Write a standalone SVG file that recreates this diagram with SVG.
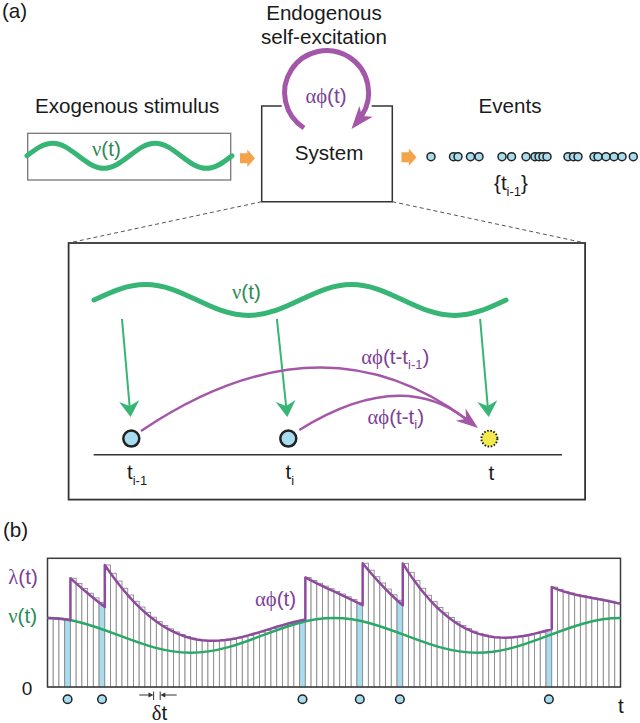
<svg xmlns="http://www.w3.org/2000/svg" width="640" height="723" viewBox="0 0 640 723">
<style>
.t{font-family:"Liberation Sans",Arial,sans-serif;font-size:20.6px;fill:#1a1a1a}
.g{font-family:"Liberation Serif","DejaVu Serif",serif}
.pur{fill:#7e3f97}
.grn{fill:#2d8a55}
.sub{font-size:13px}
.bar{fill:#fff;stroke:#8a8a8a;stroke-width:0.9}
.cy{fill:#a8dcef}
.ev{fill:#a8dcef;stroke:#222;stroke-width:1.5}
.bigev{fill:#a8dcef;stroke:#222;stroke-width:2.5}
.wave{fill:none;stroke:#37b574;stroke-width:5;stroke-linecap:round}
.dash{fill:none;stroke:#555;stroke-width:1;stroke-dasharray:4 3}
.garrow{fill:none;stroke:#37b574;stroke-width:2}
.ghead{fill:#37b574}
.parc{fill:none;stroke:#a456a8;stroke-width:2.5}
.phead{fill:#a456a8}
.orange{fill:#f4a349}
</style>

<text class="t" x="2" y="18">(a)</text>

<g id="exogenous">
  <text class="t" x="35" y="113">Exogenous stimulus</text>
  <rect x="27.7" y="133.3" width="203" height="46.7" fill="#fff" stroke="#777" stroke-width="1.3"/>
  <path class="wave" stroke-width="4.5" d="M27,155.8 C35.36,149.4 43.35,143.3 52.63,143.3 C61.9,143.3 69.89,149.4 78.25,155.8 C86.61,162.2 94.6,168.3 103.88,168.3 C113.15,168.3 121.14,162.2 129.5,155.8 C137.86,149.4 145.85,143.3 155.13,143.3 C164.4,143.3 172.39,149.4 180.75,155.8 C189.11,162.2 197.1,168.3 206.38,168.3 C215.65,168.3 223.64,162.2 232,155.8"/>
  <text class="t grn" x="92" y="156"><tspan class="g">ν</tspan>(t)</text>
</g>

<g id="endogenous">
  <text class="t" x="324" y="19.5" text-anchor="middle">Endogenous</text>
  <text class="t" x="324" y="44" text-anchor="middle">self-excitation</text>
  <path d="M304,128 A42,42 0 1 1 361.6,115.8" fill="none" stroke="#a456a8" stroke-width="5"/>
  <polygon class="phead" points="351.5,129 359.3,106 362,116 372.7,116.7"/>
  <text class="t pur" x="326" y="102.5" text-anchor="middle"><tspan class="g">αϕ</tspan>(t)</text>
</g>

<g id="system">
  <path d="M281.7,106 H261.7 V201.7 H392.3 V106 H371.7" fill="none" stroke="#333" stroke-width="1.5"/>
  <text class="t" x="329" y="160" text-anchor="middle">System</text>
</g>

<g id="events">
  <text class="t" x="510" y="113" text-anchor="middle">Events</text>
  <circle class="ev" cx="431" cy="156.7" r="4"/>
  <circle class="ev" cx="453.5" cy="156.7" r="4"/>
  <circle class="ev" cx="458" cy="156.7" r="4"/>
  <circle class="ev" cx="470.5" cy="156.7" r="4"/>
  <circle class="ev" cx="479" cy="156.7" r="4"/>
  <circle class="ev" cx="502" cy="156.7" r="4"/>
  <circle class="ev" cx="511.5" cy="156.7" r="4"/>
  <circle class="ev" cx="526" cy="156.7" r="4"/>
  <circle class="ev" cx="535" cy="156.7" r="4"/>
  <circle class="ev" cx="539" cy="156.7" r="4"/>
  <circle class="ev" cx="543" cy="156.7" r="4"/>
  <circle class="ev" cx="547" cy="156.7" r="4"/>
  <circle class="ev" cx="568" cy="156.7" r="4"/>
  <circle class="ev" cx="573.5" cy="156.7" r="4"/>
  <circle class="ev" cx="578" cy="156.7" r="4"/>
  <circle class="ev" cx="594" cy="156.7" r="4"/>
  <circle class="ev" cx="598" cy="156.7" r="4"/>
  <circle class="ev" cx="606" cy="156.7" r="4"/>
  <circle class="ev" cx="614" cy="156.7" r="4"/>
  <circle class="ev" cx="622" cy="156.7" r="4"/>
  <circle class="ev" cx="633.3" cy="156.7" r="4"/>
  <text class="t" x="494" y="190">{t<tspan class="sub" dy="6">i-1</tspan><tspan dy="-6">}</tspan></text>
</g>

<g id="zoom-panel">
  <rect x="68.6" y="243" width="516.5" height="256.6" fill="#fff" stroke="#333" stroke-width="1.8"/>
  <path class="wave" d="M94,300 C110.79,292.06 126.86,284.5 145.5,284.5 C164.14,284.5 180.21,292.06 197,300 C213.79,307.94 229.86,315.5 248.5,315.5 C267.14,315.5 283.21,307.94 300,300 C316.79,292.06 332.86,284.5 351.5,284.5 C370.14,284.5 386.21,292.06 403,300 C419.79,307.94 435.86,315.5 454.5,315.5 C473.14,315.5 489.21,307.94 506,300"/>
  <text class="t grn" x="232" y="299"><tspan class="g">ν</tspan>(t)</text>
  <line x1="93.7" y1="454.8" x2="562" y2="454.8" stroke="#333" stroke-width="1.5"/>
  <text class="t" x="127" y="479">t<tspan class="sub" dy="6">i-1</tspan></text>
  <text class="t" x="285.6" y="479">t<tspan class="sub" dy="6">i</tspan></text>
  <text class="t" x="488.5" y="480">t</text>
  <text class="t pur" x="361.3" y="364"><tspan class="g">αϕ</tspan>(t-t<tspan class="sub" dy="5">i-1</tspan><tspan dy="-5">)</tspan></text>
  <text class="t pur" x="367.5" y="424"><tspan class="g">αϕ</tspan>(t-t<tspan class="sub" dy="5">i</tspan><tspan dy="-5">)</tspan></text>
</g>

<g id="event-ti-1"><circle class="bigev" cx="131.3" cy="438.6" r="8"/></g>
<g id="event-ti"><circle class="bigev" cx="288.3" cy="438.6" r="8"/></g>
<g id="event-t"><circle cx="489.4" cy="438.6" r="8" fill="#f2e94e" stroke="#222" stroke-width="2" stroke-dasharray="1.6 1.6"/></g>

<g id="connectors">
  <polygon class="orange" points="240,153.3 247.3,153.3 247.3,149.5 255,158.3 247.3,167 247.3,163.3 240,163.3"/>
  <polygon class="orange" points="401.5,152.3 408.8,152.3 408.8,148.5 416.5,157.3 408.8,166 408.8,162.3 401.5,162.3"/>
  <line class="dash" x1="261.7" y1="201.7" x2="68.6" y2="243"/>
  <line class="dash" x1="392.3" y1="201.7" x2="585.1" y2="243"/>
  <line class="garrow" x1="122" y1="318.8" x2="129.6" y2="406"/>
  <polygon class="ghead" points="130.6,417 119.2,401.9 129.6,406 139.2,400.2"/>
  <line class="garrow" x1="276.9" y1="318.8" x2="286.1" y2="406"/>
  <polygon class="ghead" points="287.3,417 275.7,402.1 286.1,406 295.5,400.1"/>
  <line class="garrow" x1="480.1" y1="318.8" x2="487.7" y2="406"/>
  <polygon class="ghead" points="488.7,417 477.3,401.9 487.7,406 497.3,400.2"/>
  <path class="parc" d="M141,431 Q320,310.5 466,419"/>
  <path class="parc" d="M299.3,430 Q399.7,367.6 466,419"/>
  <polygon class="phead" points="478,428 455.7,420.8 466.2,418.8 465.5,408.2"/>
</g>

<text class="t" x="3" y="537">(b)</text>

<g id="intensity-chart">
  <g id="bars">
    <rect class="bar" x="47.5" y="618.1" width="5.73" height="68.9"/>
    <rect class="bar" x="53.23" y="618.24" width="5.73" height="68.76"/>
    <rect class="bar" x="58.96" y="618.64" width="5.73" height="68.36"/>
    <rect class="bar cy" x="64.69" y="619.31" width="5.73" height="67.69"/>
    <rect class="bar" x="70.42" y="578.24" width="5.73" height="108.76"/>
    <rect class="bar" x="76.15" y="583.4" width="5.73" height="103.6"/>
    <rect class="bar" x="81.88" y="588.4" width="5.73" height="98.6"/>
    <rect class="bar" x="87.61" y="593.26" width="5.73" height="93.74"/>
    <rect class="bar" x="93.34" y="597.98" width="5.73" height="89.02"/>
    <rect class="bar cy" x="99.07" y="602.56" width="5.73" height="84.44"/>
    <rect class="bar" x="104.8" y="565" width="5.73" height="122"/>
    <rect class="bar" x="110.53" y="573.3" width="5.73" height="113.7"/>
    <rect class="bar" x="116.26" y="581.05" width="5.73" height="105.95"/>
    <rect class="bar" x="121.99" y="588.3" width="5.73" height="98.7"/>
    <rect class="bar" x="127.72" y="595.04" width="5.73" height="91.96"/>
    <rect class="bar" x="133.45" y="601.3" width="5.73" height="85.7"/>
    <rect class="bar" x="139.18" y="607.07" width="5.73" height="79.93"/>
    <rect class="bar" x="144.91" y="612.37" width="5.73" height="74.63"/>
    <rect class="bar" x="150.64" y="617.2" width="5.73" height="69.8"/>
    <rect class="bar" x="156.37" y="621.56" width="5.73" height="65.44"/>
    <rect class="bar" x="162.1" y="625.47" width="5.73" height="61.53"/>
    <rect class="bar" x="167.83" y="628.9" width="5.73" height="58.1"/>
    <rect class="bar" x="173.56" y="631.9" width="5.73" height="55.1"/>
    <rect class="bar" x="179.29" y="634.43" width="5.73" height="52.57"/>
    <rect class="bar" x="185.02" y="636.52" width="5.73" height="50.48"/>
    <rect class="bar" x="190.75" y="638.19" width="5.73" height="48.81"/>
    <rect class="bar" x="196.48" y="639.43" width="5.73" height="47.57"/>
    <rect class="bar" x="202.21" y="640.28" width="5.73" height="46.72"/>
    <rect class="bar" x="207.94" y="640.74" width="5.73" height="46.26"/>
    <rect class="bar" x="213.67" y="640.83" width="5.73" height="46.17"/>
    <rect class="bar" x="219.4" y="640.6" width="5.73" height="46.4"/>
    <rect class="bar" x="225.13" y="640.04" width="5.73" height="46.96"/>
    <rect class="bar" x="230.86" y="639.22" width="5.73" height="47.78"/>
    <rect class="bar" x="236.59" y="638.15" width="5.73" height="48.85"/>
    <rect class="bar" x="242.32" y="636.87" width="5.73" height="50.13"/>
    <rect class="bar" x="248.05" y="635.41" width="5.73" height="51.59"/>
    <rect class="bar" x="253.78" y="633.81" width="5.73" height="53.19"/>
    <rect class="bar" x="259.51" y="632.12" width="5.73" height="54.88"/>
    <rect class="bar" x="265.24" y="630.35" width="5.73" height="56.65"/>
    <rect class="bar" x="270.97" y="628.58" width="5.73" height="58.42"/>
    <rect class="bar" x="276.7" y="626.81" width="5.73" height="60.19"/>
    <rect class="bar" x="282.43" y="625.1" width="5.73" height="61.9"/>
    <rect class="bar" x="288.16" y="623.48" width="5.73" height="63.52"/>
    <rect class="bar" x="293.89" y="621.97" width="5.73" height="65.03"/>
    <rect class="bar cy" x="299.62" y="620.62" width="5.73" height="66.38"/>
    <rect class="bar" x="305.35" y="577.44" width="5.73" height="109.56"/>
    <rect class="bar" x="311.08" y="580.46" width="5.73" height="106.54"/>
    <rect class="bar" x="316.81" y="583.32" width="5.73" height="103.68"/>
    <rect class="bar" x="322.54" y="586.07" width="5.73" height="100.93"/>
    <rect class="bar" x="328.27" y="588.77" width="5.73" height="98.23"/>
    <rect class="bar" x="334" y="591.44" width="5.73" height="95.56"/>
    <rect class="bar" x="339.73" y="594.11" width="5.73" height="92.89"/>
    <rect class="bar" x="345.46" y="596.81" width="5.73" height="90.19"/>
    <rect class="bar" x="351.19" y="599.56" width="5.73" height="87.44"/>
    <rect class="bar cy" x="356.92" y="602.37" width="5.73" height="84.63"/>
    <rect class="bar" x="362.65" y="563.23" width="5.73" height="123.77"/>
    <rect class="bar" x="368.38" y="570.16" width="5.73" height="116.84"/>
    <rect class="bar" x="374.11" y="576.75" width="5.73" height="110.25"/>
    <rect class="bar" x="379.84" y="583.04" width="5.73" height="103.96"/>
    <rect class="bar" x="385.57" y="589.04" width="5.73" height="97.96"/>
    <rect class="bar" x="391.3" y="594.77" width="5.73" height="92.23"/>
    <rect class="bar cy" x="397.03" y="600.24" width="5.73" height="86.76"/>
    <rect class="bar" x="402.76" y="563.42" width="5.73" height="123.58"/>
    <rect class="bar" x="408.49" y="572.35" width="5.73" height="114.65"/>
    <rect class="bar" x="414.22" y="580.6" width="5.73" height="106.4"/>
    <rect class="bar" x="419.95" y="588.23" width="5.73" height="98.77"/>
    <rect class="bar" x="425.68" y="595.25" width="5.73" height="91.75"/>
    <rect class="bar" x="431.41" y="601.67" width="5.73" height="85.33"/>
    <rect class="bar" x="437.14" y="607.53" width="5.73" height="79.47"/>
    <rect class="bar" x="442.87" y="612.81" width="5.73" height="74.19"/>
    <rect class="bar" x="448.6" y="617.55" width="5.73" height="69.45"/>
    <rect class="bar" x="454.33" y="621.74" width="5.73" height="65.26"/>
    <rect class="bar" x="460.06" y="625.41" width="5.73" height="61.59"/>
    <rect class="bar" x="465.79" y="628.56" width="5.73" height="58.44"/>
    <rect class="bar" x="471.52" y="631.21" width="5.73" height="55.79"/>
    <rect class="bar" x="477.25" y="633.38" width="5.73" height="53.62"/>
    <rect class="bar" x="482.98" y="635.08" width="5.73" height="51.92"/>
    <rect class="bar" x="488.71" y="636.34" width="5.73" height="50.66"/>
    <rect class="bar" x="494.44" y="637.18" width="5.73" height="49.82"/>
    <rect class="bar" x="500.17" y="637.61" width="5.73" height="49.39"/>
    <rect class="bar" x="505.9" y="637.68" width="5.73" height="49.32"/>
    <rect class="bar" x="511.63" y="637.4" width="5.73" height="49.6"/>
    <rect class="bar" x="517.36" y="636.84" width="5.73" height="50.16"/>
    <rect class="bar" x="523.09" y="635.99" width="5.73" height="51.01"/>
    <rect class="bar" x="528.82" y="634.92" width="5.73" height="52.08"/>
    <rect class="bar" x="534.55" y="633.64" width="5.73" height="53.36"/>
    <rect class="bar" x="540.28" y="632.21" width="5.73" height="54.79"/>
    <rect class="bar cy" x="546.01" y="630.67" width="5.73" height="56.33"/>
    <rect class="bar" x="551.74" y="587.04" width="5.73" height="99.96"/>
    <rect class="bar" x="557.47" y="589.39" width="5.73" height="97.61"/>
    <rect class="bar" x="563.2" y="591.35" width="5.73" height="95.65"/>
    <rect class="bar" x="568.93" y="593.01" width="5.73" height="93.99"/>
    <rect class="bar" x="574.66" y="594.45" width="5.73" height="92.55"/>
    <rect class="bar" x="580.39" y="595.7" width="5.73" height="91.3"/>
    <rect class="bar" x="586.12" y="596.85" width="5.73" height="90.15"/>
    <rect class="bar" x="591.85" y="597.93" width="5.73" height="89.07"/>
    <rect class="bar" x="597.58" y="599" width="5.73" height="88"/>
    <rect class="bar" x="603.31" y="600.09" width="5.73" height="86.91"/>
    <rect class="bar" x="609.04" y="601.25" width="5.73" height="85.75"/>
    <rect class="bar" x="614.77" y="602.5" width="5.73" height="84.5"/>
  </g>
  <rect x="47.5" y="558.3" width="573" height="128.7" fill="none" stroke="#3a3a3a" stroke-width="1.5"/>
  <path fill="none" stroke="#2aa866" stroke-width="2.5" d="M47.5,618.1 C73.42,618.1 95.77,626.54 119.13,635.4 C142.48,644.26 164.83,652.7 190.75,652.7 C216.67,652.7 239.02,644.26 262.38,635.4 C285.73,626.54 308.08,618.1 334,618.1 C359.92,618.1 382.27,626.54 405.63,635.4 C428.98,644.26 451.33,652.7 477.25,652.7 C503.17,652.7 525.52,644.26 548.88,635.4 C572.23,626.54 594.58,618.1 620.5,618.1"/>
  <path fill="none" stroke="#8e4a9e" stroke-width="2.5" stroke-linejoin="round" d="M47.5,618.1 L53.23,618.24 L58.96,618.64 L64.69,619.31 L70.42,620.24 L70.42,578.24 L76.15,583.4 L81.88,588.4 L87.61,593.26 L93.34,597.98 L99.07,602.56 L104.8,607 L104.8,565 L110.53,573.3 L116.26,581.05 L121.99,588.3 L127.72,595.04 L133.45,601.3 L139.18,607.07 L144.91,612.37 L150.64,617.2 L156.37,621.56 L162.1,625.47 L167.83,628.9 L173.56,631.9 L179.29,634.43 L185.02,636.52 L190.75,638.19 L196.48,639.43 L202.21,640.28 L207.94,640.74 L213.67,640.83 L219.4,640.6 L225.13,640.04 L230.86,639.22 L236.59,638.15 L242.32,636.87 L248.05,635.41 L253.78,633.81 L259.51,632.12 L265.24,630.35 L270.97,628.58 L276.7,626.81 L282.43,625.1 L288.16,623.48 L293.89,621.97 L299.62,620.62 L305.35,619.44 L305.35,577.44 L311.08,580.46 L316.81,583.32 L322.54,586.07 L328.27,588.77 L334,591.44 L339.73,594.11 L345.46,596.81 L351.19,599.56 L356.92,602.37 L362.65,605.23 L362.65,563.23 L368.38,570.16 L374.11,576.75 L379.84,583.04 L385.57,589.04 L391.3,594.77 L397.03,600.24 L402.76,605.42 L402.76,563.42 L408.49,572.35 L414.22,580.6 L419.95,588.23 L425.68,595.25 L431.41,601.67 L437.14,607.53 L442.87,612.81 L448.6,617.55 L454.33,621.74 L460.06,625.41 L465.79,628.56 L471.52,631.21 L477.25,633.38 L482.98,635.08 L488.71,636.34 L494.44,637.18 L500.17,637.61 L505.9,637.68 L511.63,637.4 L517.36,636.84 L523.09,635.99 L528.82,634.92 L534.55,633.64 L540.28,632.21 L546.01,630.67 L551.74,629.04 L551.74,587.04 L557.47,589.39 L563.2,591.35 L568.93,593.01 L574.66,594.45 L580.39,595.7 L586.12,596.85 L591.85,597.93 L597.58,599 L603.31,600.09 L609.04,601.25 L614.77,602.5 L620.5,603.86"/>
  <text class="t pur" x="8.3" y="584"><tspan class="g">λ</tspan>(t)</text>
  <text class="t grn" x="8.3" y="622.5"><tspan class="g">ν</tspan>(t)</text>
  <text class="t" x="21.7" y="695" style="font-size:19px">0</text>
  <text class="t pur" x="255" y="606"><tspan class="g">αϕ</tspan>(t)</text>
  <circle class="ev" cx="67.6" cy="699.3" r="4.3"/>
  <circle class="ev" cx="102" cy="699.3" r="4.3"/>
  <circle class="ev" cx="302.5" cy="699.3" r="4.3"/>
  <circle class="ev" cx="359.8" cy="699.3" r="4.3"/>
  <circle class="ev" cx="399.9" cy="699.3" r="4.3"/>
  <circle class="ev" cx="548.9" cy="699.3" r="4.3"/>
  <path d="M139.3,695 H150 M176.7,695 H164 M153.6,691.5 V700 M160.2,691.5 V700" stroke="#333" stroke-width="1" fill="none"/>
  <polygon points="153.4,695 148.5,692.6 148.5,697.4" fill="#333"/>
  <polygon points="160.4,695 165.3,692.6 165.3,697.4" fill="#333"/>
  <text class="t" x="151.7" y="720"><tspan class="g">δ</tspan>t</text>
  <text class="t" x="618" y="713">t</text>
</g>
</svg>
